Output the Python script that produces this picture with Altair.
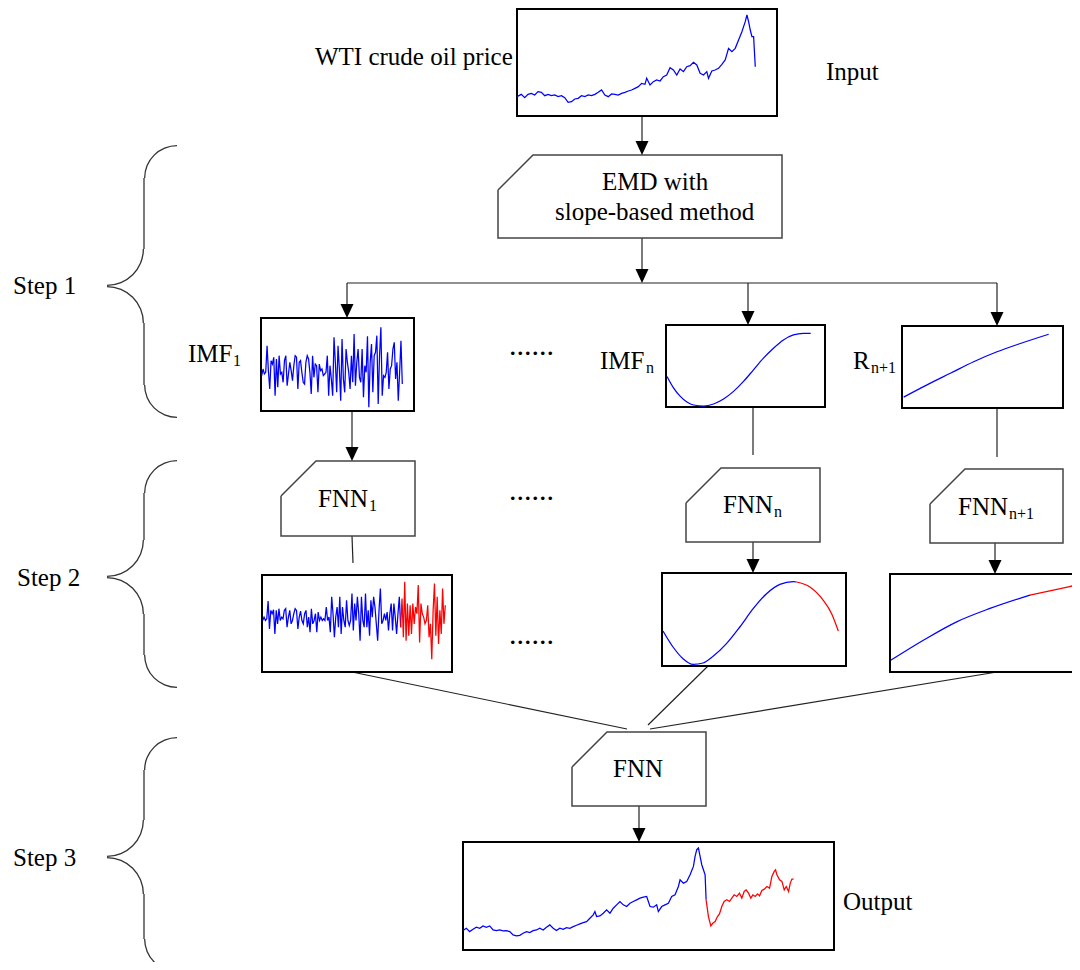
import altair as alt
import pandas as pd

# ---------------- signal readings ----------------
# WTI crude oil price (input panel): horizontal position / level
wti_t = [22, 35, 45, 55, 65, 75, 85, 95, 105, 115, 125, 135, 145, 155, 165, 175, 185, 195, 205, 215,
         225, 235, 245, 255, 265, 275, 285, 295, 305, 315, 325, 335, 345, 355, 365, 375, 385, 395, 405, 410,
         420, 430, 440, 450, 460, 470, 480, 490, 500, 510, 520, 530, 540, 550, 560, 570, 580, 590, 595, 605,
         615, 625, 635, 645, 655, 665, 675, 685, 695, 700, 705, 710, 715, 720, 725, 730, 735]
wti_v = [58, 65, 55, 65, 68, 63, 73, 71, 61, 65, 61, 63, 58, 61, 55, 41, 43, 51, 53, 61,
         58, 63, 61, 65, 71, 78, 63, 58, 66, 65, 63, 68, 71, 75, 78, 83, 88, 98, 95, 113,
         93, 103, 108, 105, 118, 123, 145, 138, 123, 141, 133, 148, 151, 161, 153, 128, 123, 133, 113, 135,
         138, 143, 155, 168, 203, 193, 203, 228, 253, 268, 283, 303, 283, 258, 238, 238, 148]

# IMF1 (high-frequency component)
imf1_v = [-15, 5, -10, -5, 75, 0, -55, 30, 20, 40,
          -75, 35, -50, 45, -10, -5, -35, 30, 45, -45,
          -10, 25, 0, -30, 15, 45, 40, -55, 25, 30,
          -5, -35, -40, 25, 45, 35, -5, -70, 45, -20,
          20, 15, -65, 20, 0, 5, -15, -10, -5, 45,
          -75, 15, -25, -75, 100, 25, -65, 75, 5, -90,
          95, -25, -65, 65, 25, -5, -55, 45, -35, 110,
          -45, 25, 65, -20, -35, 65, -80, 15, -5, 103,
          -110, 25, 80, -65, 45, 55, 105, -100, 45, 130,
          -75, -15, -20, -5, 55, -55, 5, 15, 65, 85,
          -25, 25, -90, -5, 90, -40]

# IMFn (slow oscillation) and residue R(n+1)
imfn_t = [320, 340, 360, 380, 400, 430, 460, 490, 520, 550, 580, 610, 640, 670, 700, 730, 752]
imfn_v = [92, 57, 32, 15, 6, 3, 9, 24, 47, 77, 112, 147, 177, 202, 217, 222, 222]
res_t = [1030, 1100, 1170, 1240, 1310, 1380, 1465]
res_v = [33, 70, 105, 140, 170, 195, 223]

# FNN1 fitted + forecast of IMF1
out1_v = [-5, 5, -5, 0, 53, -30, 25, 15, 27, -45,
          25, -15, 30, -5, 5, 0, 25, 30, -25, 5,
          25, -15, -5, 15, 30, 25, -30, 5, 23, -5,
          -15, 15, 25, -25, 5, -40, 30, -15, -5, 15,
          -40, 20, -5, 5, -5, 0, -5, 35, -5, 5,
          -40, 65, 15, -55, 5, 35, -25, 65, -45, 35,
          -5, -25, 55, -5, -20, -5, 75, -35, 45, -5,
          65, 15, -65, 65, -5, -25, 75, -25, 25, -50,
          55, 5, 65, 35, -15, -65, 25, 90, -15, -5,
          15, -5, 20, -35, 15, 45, -35, 45, 5, -45,
          15, 65, -25,
          60, -55, 110, -65, 45, -50, 40, -45, 45, -15,
          35, 15, 100, -70, 45, 15, 5, -15, -5, 40,
          -55, -15, -120, 25, 105, -50, 65, -75, 25, -45,
          90, -15, 40]
out1_split = 102

# FNNn fitted + forecast of IMFn
outn_t = [70, 100, 130, 160, 190, 220, 260, 300, 340, 380, 420, 460, 470, 510, 550, 575, 595]
outn_v = [105, 57, 22, 5, 9, 29, 67, 117, 172, 217, 245, 253, 252, 237, 197, 157, 105]
outn_split = 12

# FNNn+1 fitted + forecast of residue
outr_t = [752, 850, 950, 1050, 1170, 1240, 1300]
outr_v = [35, 95, 150, 190, 230, 245, 258]
outr_split = 4

# Final ensemble output
out_t = [10, 20, 30, 40, 50, 60, 70, 80, 90, 100, 110, 120, 130, 140, 150, 160, 170, 180, 190, 200,
         210, 220, 230, 240, 250, 260, 270, 280, 290, 300, 310, 320, 330, 340, 350, 360, 370, 380, 390, 400,
         405, 410, 420, 430, 440, 450, 460, 470, 480, 490, 500, 510, 520, 530, 540, 550, 560, 570, 580, 590,
         595, 605, 615, 625, 635, 645, 655, 660, 670, 680, 690, 700, 705, 710, 715, 720, 725, 730, 735, 738,
         745, 752, 758, 765, 772, 778, 785, 792, 800, 808, 815, 822, 830, 838, 845, 852, 858, 865, 872, 878,
         885, 892, 898, 905, 912, 920, 928, 935, 942, 946, 950, 958, 965, 972, 978, 985, 990, 995, 1000]
out_v = [58, 65, 55, 62, 68, 65, 72, 68, 72, 60, 58, 60, 57, 58, 55, 45, 42, 44, 50, 55,
         52, 58, 60, 65, 60, 68, 75, 65, 58, 65, 62, 67, 65, 70, 74, 78, 82, 85, 95, 105,
         115, 100, 102, 110, 120, 110, 125, 135, 145, 135, 130, 140, 145, 150, 155, 158, 160, 130, 128, 135,
         115, 130, 135, 140, 160, 165, 190, 210, 200, 205, 225, 250, 280, 300, 305, 280, 255, 240, 225, 150,
         100, 72, 80, 85, 100, 108, 130, 145, 150, 145, 155, 165, 160, 170, 155, 175, 180, 170, 155, 165,
         160, 168, 162, 178, 182, 190, 185, 220, 235, 240, 225, 210, 205, 180, 190, 175, 200, 212, 212]
out_split = 79

# ---------------- diagram layout ----------------
OFF = 8  # page margin


def LX(f="x"):
    return alt.X(f"{f}:Q", scale=alt.Scale(domain=[0, 1080], range=[-OFF, 1080 - OFF], nice=False, zero=False), axis=None)


def LY(f="y"):
    return alt.Y(f"{f}:Q", scale=alt.Scale(domain=[0, 970], range=[-OFF, 970 - OFF], nice=False, zero=False), axis=None)


# panels: x0, y0, x1, y1
panels = pd.DataFrame({
    "x": [517, 261, 666, 902, 262, 662, 890, 463],
    "y": [9, 318, 325, 326, 575, 573, 574, 842],
    "x2": [777, 414, 825, 1063, 452, 846, 1095, 834],
    "y2": [116, 411, 407, 408, 672, 666, 672, 950],
})

# process boxes with a cut corner
proc_names = ["emd", "fnn1", "fnnn", "fnnr", "fnn"]
proc_left = [498, 281, 686, 930, 572]
proc_top = [155, 461, 468, 469, 732]
proc_right = [782, 415, 820, 1063, 706]
proc_bottom = [238, 536, 542, 543, 806]
rows = []
for n, l, t, r, b in zip(proc_names, proc_left, proc_top, proc_right, proc_bottom):
    pts = [(l, t + 35), (l + 35, t), (r, t), (r, b), (l, b), (l, t + 35)]
    for k, (px, py) in enumerate(pts):
        rows.append({"box": n, "k": k, "x": px, "y": py})
procs = pd.DataFrame(rows)

# connectors
conn = pd.DataFrame({
    "x": [642, 642, 347, 347, 748, 997, 352, 753, 997, 352, 753, 995, 352, 708, 997, 639],
    "y": [116, 238, 283, 283, 283, 283, 411, 407, 408, 536, 542, 543, 672, 666, 672, 806],
    "x2": [642, 642, 997, 347, 748, 997, 352, 753, 997, 353, 753, 995, 627, 648, 650, 639],
    "y2": [148, 276, 283, 312, 319, 320, 455, 455, 457, 563, 567, 568, 729, 725, 729, 836],
})
arrows = pd.DataFrame({
    "x": [642, 642, 347, 748, 997, 352, 753, 995, 639],
    "y": [155, 283, 318, 325, 326, 461, 573, 574, 842],
})

labels = pd.DataFrame({
    "x": [315, 826, 602, 555, 13, 17, 13, 188, 600, 853, 318, 723, 958, 613, 843],
    "y": [65, 80, 190, 220, 294, 586, 866, 362, 369, 369, 507, 513, 515, 777, 910],
    "s": ["WTI crude oil price", "Input", "EMD with", "slope-based method", "Step 1", "Step 2", "Step 3",
          "IMF", "IMF", "R", "FNN", "FNN", "FNN", "FNN", "Output"],
})
subs = pd.DataFrame({
    "x": [233, 646, 871, 369, 774, 1009],
    "y": [366, 373, 373, 511, 517, 519],
    "s": ["1", "n", "n+1", "1", "n", "n+1"],
})
dots = pd.DataFrame({"x": [509, 509, 509], "y": [355, 500, 644], "s": ["......"] * 3})

# braces: top, tip, bottom
br_top = [145, 460, 737]
br_tip = [286, 577, 857]
br_bot = [418, 688, 972]
VX, EX, TX, R1, R2 = 144, 177, 107, 33, 37

layers = []

layers.append(alt.Chart(conn).mark_rule(color="#222", strokeWidth=1.2).encode(
    x=LX(), y=LY(), x2="x2:Q", y2="y2:Q"))

layers.append(alt.Chart(procs).mark_line(color="#444", strokeWidth=1.5).encode(
    x=LX(), y=LY(), detail="box:N", order="k:Q"))

layers.append(alt.Chart(panels).mark_rect(fillOpacity=0, stroke="black", strokeWidth=2).encode(
    x=LX(), y=LY(), x2="x2:Q", y2="y2:Q"))


def mini(t, v, split, xdom, xrng, ydom, yrng, interp="linear"):
    rs = []
    for i, (a, b) in enumerate(zip(t, v)):
        if split is None or i <= split:
            rs.append({"t": a, "v": b, "seg": "fit"})
        if split is not None and i >= split:
            rs.append({"t": a, "v": b, "seg": "forecast"})
    df = pd.DataFrame(rs)
    return alt.Chart(df).mark_line(strokeWidth=1.25, interpolate=interp).encode(
        x=alt.X("t:Q", scale=alt.Scale(domain=xdom, range=[xrng[0] - OFF, xrng[1] - OFF], nice=False, zero=False), axis=None),
        y=alt.Y("v:Q", scale=alt.Scale(domain=ydom, range=[yrng[0] - OFF, yrng[1] - OFF], nice=False, zero=False), axis=None),
        color=alt.Color("seg:N", scale=alt.Scale(domain=["fit", "forecast"], range=["#0000ff", "#ff0000"]), legend=None),
        order="t:Q",
    )


idx1 = list(range(len(imf1_v)))
idxo = list(range(len(out1_v)))
layers += [
    mini(wti_t, wti_v, None, [22, 800], [517, 777], [0, 321], [116, 9]),
    mini(idx1, imf1_v, None, [0, len(imf1_v) - 1], [261.7, 402.3], [-121, 158], [411, 318]),
    mini(imfn_t, imfn_v, None, [317, 795], [666, 825], [0, 247], [407, 325], "monotone"),
    mini(res_t, res_v, None, [1025, 1508], [902, 1063], [0, 248], [408, 326], "monotone"),
    mini(idxo, out1_v, out1_split, [0, len(out1_v) - 1], [262.7, 445.3], [-158, 130], [672, 575]),
    mini(outn_t, outn_v, outn_split, [67, 618], [662, 846], [0, 279], [666, 573], "monotone"),
    mini(outr_t, outr_v, outr_split, [750, 1320], [890, 1080], [0, 293], [672, 574], "monotone"),
    mini(out_t, out_v, out_split, [10, 1118], [463, 833], [0, 323], [950, 842]),
]

layers.append(alt.Chart(arrows).mark_point(shape="M-0.93,-2L0.93,-2L0,0Z", filled=True, size=196,
                                           color="black", opacity=1).encode(x=LX(), y=LY()))

txt = dict(font="Liberation Serif", align="left", baseline="alphabetic", color="black")
layers.append(alt.Chart(labels).mark_text(fontSize=25, **txt).encode(x=LX(), y=LY(), text="s:N"))
layers.append(alt.Chart(subs).mark_text(fontSize=16, **txt).encode(x=LX(), y=LY(), text="s:N"))
layers.append(alt.Chart(dots).mark_text(fontSize=30, **txt).encode(x=LX(), y=LY(), text="s:N"))

# brace pieces
PI = 3.141592653589793
arcs = [
    ([EX] * 3, [t + R1 for t in br_top], R1, 1.5 * PI, 2 * PI),
    ([TX] * 3, [p - R2 for p in br_tip], R2, 0.5 * PI, PI),
    ([TX] * 3, [p + R2 for p in br_tip], R2, 0.0, 0.5 * PI),
    ([EX] * 3, [b - R1 for b in br_bot], R1, PI, 1.5 * PI),
]
for cx, cy, r, a0, a1 in arcs:
    layers.append(alt.Chart(pd.DataFrame({"x": cx, "y": cy})).mark_arc(
        radius=r, radius2=r - 1.3, theta=a0, theta2=a1, color="#333").encode(x=LX(), y=LY()))

brace_v = pd.DataFrame({
    "x": [VX] * 6,
    "y": [t + R1 for t in br_top] + [p + R2 for p in br_tip],
    "y2": [p - R2 for p in br_tip] + [b - R1 for b in br_bot],
})
layers.append(alt.Chart(brace_v).mark_rule(color="#333", strokeWidth=1.3).encode(x=LX(), y=LY(), y2="y2:Q"))

chart = alt.layer(*layers).resolve_scale(x="independent", y="independent").properties(
    width=1064, height=954, padding=0, background="white",
    autosize=alt.AutoSizeParams(type="none"),
).configure_view(stroke=None)

chart.save("out.html", embed_options={"renderer": "svg", "actions": False})
